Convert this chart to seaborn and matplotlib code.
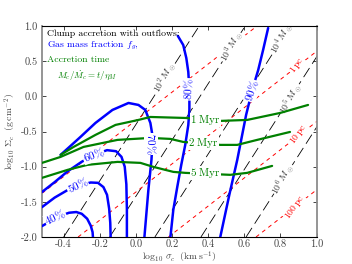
import matplotlib
matplotlib.use("Agg")
import matplotlib.pyplot as plt
import seaborn as sns
import pandas as pd

# Constant clump mass lines (log sigma where each crosses log Sigma = -2 and +1)
mass_exp = [2, 3, 4, 5, 6]
mass_sig_lo = [-0.40, -0.145, 0.105, 0.36, 0.61]
mass_sig_hi = [0.35, 0.605, 0.855, 1.11, 1.36]
mass_lab_x = [0.16, 0.53, 0.81, 0.852, 0.815]
mass_lab_y = [0.27, 0.70, 0.82, -0.03, -1.18]

# Constant clump radius lines (pc)
rad_pc = ["0.1", "1", "10", "100"]
rad_sig_lo = [-0.83, -0.32, 0.18, 0.665]
rad_sig_hi = [0.67, 1.18, 1.68, 2.165]
rad_lab_x = [None, 0.89, 0.90, 0.88]
rad_lab_y = [None, 0.44, -0.54, -1.58]

# Gas mass fraction contours
f40_x = [-0.52, -0.47, -0.42, -0.37, -0.33, -0.30, -0.27, -0.25, -0.24, -0.238]
f40_y = [-1.845, -1.77, -1.70, -1.655, -1.645, -1.67, -1.74, -1.84, -1.93, -2.0]
f50_x = [-0.52, -0.45, -0.38, -0.31, -0.25, -0.21, -0.18, -0.16, -0.148, -0.142, -0.14]
f50_y = [-1.575, -1.44, -1.335, -1.26, -1.225, -1.23, -1.29, -1.40, -1.60, -1.80, -2.0]
f60_x = [-0.52, -0.45, -0.38, -0.30, -0.22, -0.16, -0.11, -0.08, -0.062, -0.053, -0.05, -0.05]
f60_y = [-1.36, -1.22, -1.07, -0.93, -0.82, -0.765, -0.78, -0.86, -1.0, -1.25, -1.6, -2.0]
f70_x = [-0.417, -0.362, -0.307, -0.224, -0.130, -0.041, 0.014, 0.052, 0.080, 0.091, 0.091, 0.086, 0.069, 0.047]
f70_y = [-0.832, -0.705, -0.577, -0.378, -0.193, -0.094, -0.122, -0.193, -0.378, -0.548, -0.690, -0.903, -1.330, -2.0]
f80_x = [0.232, 0.262, 0.279, 0.290, 0.296, 0.296, 0.290, 0.273, 0.251, 0.229, 0.207, 0.191]
f80_y = [0.86, 0.730, 0.545, 0.347, 0.091, -0.193, -0.406, -0.690, -0.974, -1.287, -1.614, -2.0]
f90_x = [0.732, 0.704, 0.677, 0.644, 0.610, 0.561, 0.517, 0.467]
f90_y = [0.972, 0.659, 0.375, 0.091, -0.264, -0.903, -1.401, -2.0]
frac_labels = ["40", "50", "60", "70", "80", "90"]
frac_lab_x = [-0.445, -0.323, -0.235, 0.082, 0.295, 0.642]
frac_lab_y = [-1.727, -1.273, -0.832, -0.676, 0.10, 0.08]
frac_lab_rot = [25, 25, 20, -90, 88, 72]

# Accretion time contours
t1_x = [-0.417, -0.345, -0.224, -0.113, 0.014, 0.080, 0.273, 0.467, 0.616, 0.798, 0.953]
t1_y = [-0.832, -0.719, -0.548, -0.406, -0.335, -0.293, -0.307, -0.349, -0.335, -0.236, -0.122]
t2_x = [-0.52, -0.417, -0.290, -0.102, 0.080, 0.191, 0.262, 0.467, 0.561, 0.671, 0.853]
t2_y = [-0.946, -0.861, -0.719, -0.619, -0.591, -0.605, -0.648, -0.690, -0.690, -0.619, -0.506]
t5_x = [-0.52, -0.378, -0.268, -0.102, 0.025, 0.097, 0.207, 0.273, 0.522, 0.616, 0.754]
t5_y = [-1.159, -1.045, -0.974, -0.932, -0.946, -1.003, -1.074, -1.088, -1.116, -1.088, -0.989]
time_labels = ["1", "2", "5"]
time_lab_x = [0.384, 0.373, 0.384]
time_lab_y = [-0.335, -0.662, -1.088]

sns.set_style("ticks")
plt.rcParams["font.family"] = "serif"
plt.rcParams["font.serif"] = ["cmr10", "DejaVu Serif"]
plt.rcParams["mathtext.fontset"] = "cm"
plt.rcParams["axes.formatter.use_mathtext"] = True
plt.rcParams["axes.unicode_minus"] = True

fig = plt.figure(figsize=(3.52, 2.64), dpi=100)
ax = fig.add_axes([0.1193, 0.1023, 0.78, 0.799])

# background lines: mass (black long dashes) and radius (red short dashes)
for lo, hi in zip(mass_sig_lo, mass_sig_hi):
    ax.plot([lo, hi], [-2.0, 1.0], color="black", lw=0.6, dashes=(13, 6), zorder=1)
for lo, hi in zip(rad_sig_lo, rad_sig_hi):
    ax.plot([lo, hi], [-2.0, 1.0], color="red", lw=0.7, dashes=(4, 4), zorder=1)

for e, x, y in zip(mass_exp, mass_lab_x, mass_lab_y):
    ax.text(x, y, r"$10^{%d}\,M_\odot$" % e, color="#333333", fontsize=7, rotation=62,
            ha="center", va="center", zorder=2,
            bbox=dict(facecolor="white", edgecolor="none", pad=0.3))
for r, x, y in zip(rad_pc, rad_lab_x, rad_lab_y):
    if x is None:
        continue
    ax.text(x, y, r"$%s\,\mathrm{pc}$" % r, color="red", fontsize=7, rotation=55,
            ha="center", va="center", zorder=2,
            bbox=dict(facecolor="white", edgecolor="none", pad=0.3))

# gas mass fraction contours
frac = pd.concat([
    pd.DataFrame({"x": xs, "y": ys, "f": lab})
    for xs, ys, lab in zip([f40_x, f50_x, f60_x, f70_x, f80_x, f90_x],
                           [f40_y, f50_y, f60_y, f70_y, f80_y, f90_y], frac_labels)
])
sns.lineplot(data=frac, x="x", y="y", units="f", estimator=None, sort=False,
             color="blue", lw=1.8, ax=ax, zorder=3)
for lab, x, y, rot in zip(frac_labels, frac_lab_x, frac_lab_y, frac_lab_rot):
    ax.text(x, y, r"$%s\%%$" % lab, color="blue", fontsize=8, rotation=rot,
            ha="center", va="center", zorder=5,
            bbox=dict(facecolor="white", edgecolor="none", pad=0.2))

# accretion time contours
tacc = pd.concat([
    pd.DataFrame({"x": xs, "y": ys, "t": lab})
    for xs, ys, lab in zip([t1_x, t2_x, t5_x], [t1_y, t2_y, t5_y], time_labels)
])
sns.lineplot(data=tacc, x="x", y="y", units="t", estimator=None, sort=False,
             color="green", lw=1.6, ax=ax, zorder=4)
for lab, x, y in zip(time_labels, time_lab_x, time_lab_y):
    ax.text(x, y, r"$%s\ \mathrm{Myr}$" % lab, color="green", fontsize=8,
            ha="center", va="center", zorder=5,
            bbox=dict(facecolor="white", edgecolor="none", pad=0.2))

# legend-like annotation
ax.text(0.018, 0.962, "Clump accretion with outflows:", transform=ax.transAxes,
        fontsize=7, color="black", va="center", zorder=6)
ax.text(0.018, 0.905, r"Gas mass fraction $f_g$,", transform=ax.transAxes,
        fontsize=7, color="blue", va="center", zorder=6)
ax.text(0.018, 0.839, "Accretion time", transform=ax.transAxes,
        fontsize=7, color="green", va="center", zorder=6)
ax.text(0.055, 0.768, r"$M_c/\dot{M}_c = t/\eta_M$", transform=ax.transAxes,
        fontsize=6.5, color="green", va="center", zorder=6)

ax.set_xlim(-0.52, 1.0)
ax.set_ylim(-2.0, 1.0)
ax.set_xticks([-0.4, -0.2, 0.0, 0.2, 0.4, 0.6, 0.8, 1.0])
ax.set_yticks([-2.0, -1.5, -1.0, -0.5, 0.0, 0.5, 1.0])
ax.xaxis.set_major_formatter(matplotlib.ticker.FormatStrFormatter("%.1f"))
ax.yaxis.set_major_formatter(matplotlib.ticker.FormatStrFormatter("%.1f"))
ax.tick_params(direction="in", top=True, right=True, length=3, width=0.6,
               labelsize=7.5, labelcolor="#444444", pad=3)
ax.tick_params(axis="x", pad=1.5)
ax.set_xlabel(r"$\log_{10}\,\sigma_c\ \ (\mathrm{km\,s^{-1}})$", fontsize=7,
              color="#444444")
ax.xaxis.set_label_coords(0.5, -0.094)
ax.xaxis.label.set_va("center")
ax.set_ylabel(r"$\log_{10}\,\Sigma_c\ \ (\mathrm{g\,cm^{-2}})$", fontsize=7,
              color="#444444", labelpad=2)
for side in ["left", "right"]:
    ax.spines[side].set_color("#8c8c8c")
    ax.spines[side].set_linewidth(1.3)
for side in ["top", "bottom"]:
    ax.spines[side].set_color("black")
    ax.spines[side].set_linewidth(0.8)

fig.savefig("out.png", dpi=100)
